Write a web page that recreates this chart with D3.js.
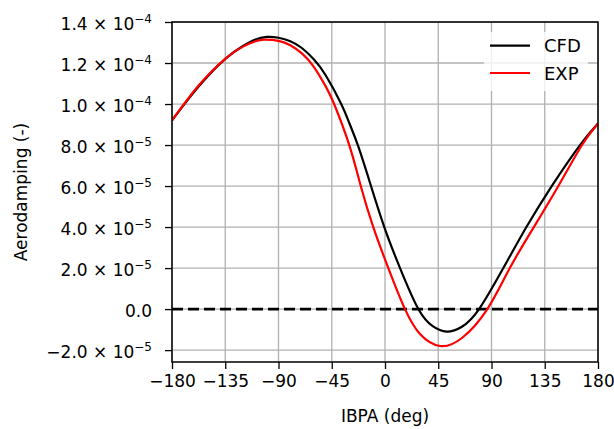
<!DOCTYPE html>
<html>
<head>
<meta charset="utf-8">
<script src="https://cdnjs.cloudflare.com/ajax/libs/d3/7.8.5/d3.min.js"></script>
<style>
  body { margin: 0; background: #fff; }
  svg { font-family: "DejaVu Sans", sans-serif; }
</style>
</head>
<body>
<script>
// data (aerodamping vs inter blade phase angle)
var cfdIbpa = [-180, -157.5, -135, -120, -110, -100, -90, -80, -70, -60, -50, -37, -30,
               -22.5, -12.1, -0.6, 12.7, 28.2, 40, 52, 65, 79.5, 100, 119.5, 140.9, 164.8, 180];
var cfd = [9.2e-5, 10.85e-5, 12.2e-5, 12.83e-5, 13.13e-5, 13.27e-5, 13.23e-5, 13.06e-5,
           12.72e-5, 12.17e-5, 11.39e-5, 10.0e-5, 9.05e-5, 7.92e-5, 6.05e-5, 4.0e-5,
           2.0e-5, 0, -0.82e-5, -1.1e-5, -0.86e-5, 0, 2.0e-5, 4.0e-5, 6.0e-5, 8.0e-5, 9.05e-5];

var expIbpa = [-180, -157.5, -135, -120, -110, -102, -90, -80, -70, -60, -50, -43, -30.2,
               -20.5, -9.9, 2.8, 16.9, 30, 46.5, 65, 86.5, 105.5, 125.8, 146.5, 166.5, 180];
var exp = [9.2e-5, 10.9e-5, 12.2e-5, 12.8e-5, 13.05e-5, 13.14e-5, 13.08e-5, 12.87e-5,
           12.46e-5, 11.8e-5, 10.85e-5, 10.0e-5, 8.0e-5, 6.0e-5, 4.0e-5, 2.0e-5, 0,
           -1.24e-5, -1.8e-5, -1.41e-5, 0, 2.0e-5, 4.0e-5, 6.0e-5, 8.0e-5, 9.05e-5];

var xTicks = [-180, -135, -90, -45, 0, 45, 90, 135, 180];
var yTicks = [1.4e-4, 1.2e-4, 1.0e-4, 8e-5, 6e-5, 4e-5, 2e-5, 0, -2e-5];
var yMant = ["1.4", "1.2", "1.0", "8.0", "6.0", "4.0", "2.0", "0.0", "\u22122.0"];
var yExp = ["\u22124", "\u22124", "\u22124", "\u22125", "\u22125", "\u22125", "\u22125", "", "\u22125"];

var seriesNames = ["CFD", "EXP"];
var seriesColors = ["#000000", "#ff0000"];

var width = 614,
    height = 429;
var margin = {top: 22, right: 16, bottom: 67, left: 172};
var w = width - margin.left - margin.right,
    h = height - margin.top - margin.bottom;

var svg = d3.select("body").append("svg")
    .attr("width", width)
    .attr("height", height);

var g = svg.append("g")
    .attr("transform", "translate(" + margin.left + "," + margin.top + ")");

var x = d3.scaleLinear().domain([-180, 180]).range([0, w]);
var y = d3.scaleLinear().domain([-2.58e-5, 1.4e-4]).range([h, 0]);

// grid
g.append("g").selectAll("line").data(xTicks).enter().append("line")
    .attr("x1", function(d) { return x(d); })
    .attr("x2", function(d) { return x(d); })
    .attr("y1", 0).attr("y2", h)
    .attr("stroke", "#b0b0b0").attr("stroke-width", 1.3);

g.append("g").selectAll("line").data(yTicks).enter().append("line")
    .attr("y1", function(d) { return y(d); })
    .attr("y2", function(d) { return y(d); })
    .attr("x1", 0).attr("x2", w)
    .attr("stroke", "#b0b0b0").attr("stroke-width", 1.3);

svg.append("clipPath").attr("id", "clip")
  .append("rect").attr("width", w).attr("height", h);

var plot = g.append("g").attr("clip-path", "url(#clip)");

// zero line
plot.append("line")
    .attr("x1", 0).attr("x2", w)
    .attr("y1", y(0)).attr("y2", y(0))
    .attr("stroke", "#000").attr("stroke-width", 2.6)
    .attr("stroke-dasharray", "11,5");

var line = d3.line()
    .x(function(d) { return x(d[0]); })
    .y(function(d) { return y(d[1]); })
    .curve(d3.curveNatural);

[[cfdIbpa, cfd], [expIbpa, exp]].forEach(function(s, i) {
  plot.append("path")
      .attr("d", line(d3.zip(s[0], s[1])))
      .attr("fill", "none")
      .attr("stroke", seriesColors[i])
      .attr("stroke-width", 2.2);
});

// axes
var xAxis = d3.axisBottom(x).tickValues(xTicks).tickSize(7).tickPadding(6)
    .tickFormat(function(d) { return d < 0 ? "\u2212" + Math.abs(d) : d; });
var gx = g.append("g").attr("transform", "translate(0," + h + ")").call(xAxis);
gx.selectAll("text").attr("font-size", 17).attr("fill", "#000")
    .attr("font-family", "DejaVu Sans");
gx.selectAll("line").attr("stroke-width", 1.3);
gx.select(".domain").remove();

var yAxis = d3.axisLeft(y).tickValues(yTicks).tickSize(7).tickFormat("");
var gy = g.append("g").call(yAxis);
gy.selectAll("line").attr("stroke-width", 1.3);
gy.select(".domain").remove();

// y tick labels with exponents
var lab = gy.selectAll(".tick").append("text")
    .attr("x", -20)
    .attr("y", 7.6)
    .attr("text-anchor", "end")
    .attr("font-size", 17)
    .attr("font-family", "DejaVu Sans")
    .attr("fill", "#000");
lab.each(function(d, i) {
  var t = d3.select(this);
  if (yExp[i] === "") {
    t.text(yMant[i]);
  } else {
    t.append("tspan").text(yMant[i] + " \u00d7 10");
    t.append("tspan").attr("font-size", 12).attr("dy", -7.5).text(yExp[i]);
  }
});

// spines
g.append("rect")
    .attr("width", w).attr("height", h)
    .attr("fill", "none").attr("stroke", "#000").attr("stroke-width", 1.5);

// axis labels
svg.append("text")
    .attr("x", margin.left + w / 2)
    .attr("y", 422)
    .attr("text-anchor", "middle")
    .attr("font-size", 17)
    .text("IBPA (deg)");

svg.append("text")
    .attr("transform", "translate(27," + (margin.top + h / 2) + ") rotate(-90)")
    .attr("text-anchor", "middle")
    .attr("font-size", 17)
    .text("Aerodamping (-)");

// legend
var leg = svg.append("g").attr("transform", "translate(484,32)");
leg.append("rect")
    .attr("width", 104).attr("height", 59).attr("rx", 3)
    .attr("fill", "#fff").attr("fill-opacity", 0.8);
seriesNames.forEach(function(name, i) {
  var yy = 13.7 + i * 27.3;
  leg.append("line")
      .attr("x1", 6).attr("x2", 46)
      .attr("y1", yy).attr("y2", yy)
      .attr("stroke", seriesColors[i]).attr("stroke-width", 2.2);
  leg.append("text")
      .attr("x", 60).attr("y", yy + 6.5)
      .attr("font-size", 18)
      .text(name);
});
</script>
</body>
</html>
